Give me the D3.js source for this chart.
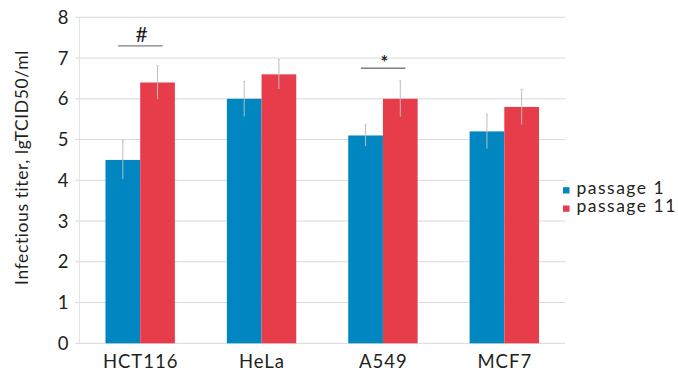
<!DOCTYPE html>
<html>
<head>
<meta charset="utf-8">
<script src="https://cdn.jsdelivr.net/npm/d3@7"></script>
<style>
  html, body { margin: 0; padding: 0; background: #fff; }
  svg { display: block; }
  text { font-family: Lato, "Open Sans", sans-serif; fill: #231f20; }
</style>
</head>
<body>
<svg id="chart" width="678" height="371"></svg>
<script>
// Cell lines and titers (lgTCID50/ml) for two passages
const categories = ["HCT116", "HeLa", "A549", "MCF7"];
const seriesNames = ["passage 1", "passage 11"];
const passage1 = [4.5, 6.0, 5.1, 5.2];
const passage11 = [6.4, 6.6, 6.0, 5.8];
const passage1Err = [0.47, 0.43, 0.26, 0.42];
const passage11Err = [0.41, 0.36, 0.44, 0.43];
const yTicks = [0, 1, 2, 3, 4, 5, 6, 7, 8];
// Significance marks: category, symbol, level
const marks = [
  { category: "HCT116", symbol: "#", level: 7.3 },
  { category: "A549", symbol: "*", level: 6.75 }
];

const colors = ["#0086c0", "#e73d4b"];
const values = [passage1, passage11];
const errors = [passage1Err, passage11Err];

const svg = d3.select("#chart");
const margin = { left: 79.5, right: 113, top: 17.3, bottom: 27.7 };
const W = 678, H = 371;
const x0 = margin.left, x1 = W - margin.right;
const yTop = margin.top, yBot = H - margin.bottom;

const x = d3.scaleBand().domain(categories).range([x0, x1]).paddingInner(0).paddingOuter(0);
const y = d3.scaleLinear().domain([0, 8]).range([yBot, yTop]);
const barW = 34.7;
const xs = d3.scaleBand().domain(seriesNames).range([0, barW * 2]);

// Gridlines with short ticks on the left
svg.append("g").selectAll("line").data(yTicks).join("line")
  .attr("x1", x0 - 4.5).attr("x2", x1)
  .attr("y1", d => y(d)).attr("y2", d => y(d))
  .attr("stroke", "#d9d9d9").attr("stroke-width", 1);

// Vertical axis line
svg.append("line")
  .attr("x1", x0).attr("x2", x0).attr("y1", yTop).attr("y2", yBot)
  .attr("stroke", "#e3e3e3").attr("stroke-width", 1);

// Y tick labels
svg.append("g").selectAll("text").data(yTicks).join("text")
  .attr("x", x0 - 11).attr("y", d => y(d)).attr("dy", "0.36em")
  .attr("text-anchor", "end").attr("font-size", 18.5)
  .text(d => d);

// Bars
const groups = svg.append("g").selectAll("g").data(categories).join("g")
  .attr("transform", c => `translate(${x(c) + x.bandwidth() / 2 - barW},0)`);

seriesNames.forEach((s, si) => {
  groups.append("rect")
    .attr("x", xs(s)).attr("width", xs.bandwidth())
    .attr("y", (c, i) => y(values[si][i]))
    .attr("height", (c, i) => y(0) - y(values[si][i]))
    .attr("fill", colors[si]);
});

// Error bars
seriesNames.forEach((s, si) => {
  groups.append("line")
    .attr("x1", xs(s) + xs.bandwidth() / 2).attr("x2", xs(s) + xs.bandwidth() / 2)
    .attr("y1", (c, i) => y(values[si][i] - errors[si][i]))
    .attr("y2", (c, i) => y(values[si][i] + errors[si][i]))
    .attr("stroke", "#bdbdbd").attr("stroke-width", 1);
  groups.append("line")
    .attr("x1", xs(s) + xs.bandwidth() / 2 - 1).attr("x2", xs(s) + xs.bandwidth() / 2 + 1)
    .attr("y1", (c, i) => y(values[si][i] + errors[si][i]))
    .attr("y2", (c, i) => y(values[si][i] + errors[si][i]))
    .attr("stroke", "#bdbdbd").attr("stroke-width", 1);
});

// X category labels
svg.append("g").selectAll("text").data(categories).join("text")
  .attr("x", c => x(c) + x.bandwidth() / 2 + 0.5).attr("y", H - 3)
  .attr("text-anchor", "middle").attr("font-size", 18.5)
  .attr("letter-spacing", 1)
  .text(c => c);

// Significance brackets
const sig = svg.append("g").selectAll("g").data(marks).join("g");
sig.append("line")
  .attr("x1", d => x(d.category) + x.bandwidth() / 2 - 22)
  .attr("x2", d => x(d.category) + x.bandwidth() / 2 + 22.5)
  .attr("y1", d => y(d.level)).attr("y2", d => y(d.level))
  .attr("stroke", "#7f7f7f").attr("stroke-width", 1.3);
sig.append("text")
  .attr("x", d => x(d.category) + x.bandwidth() / 2 + 1.5)
  .attr("y", d => y(d.level) - (d.symbol === "#" ? 4 : -1))
  .attr("text-anchor", "middle")
  .attr("font-size", d => d.symbol === "#" ? 21 : 18)
  .attr("font-weight", d => d.symbol === "#" ? "normal" : "bold")
  .text(d => d.symbol);

// Y axis title
svg.append("text")
  .attr("transform", `translate(28,167.5) rotate(-90)`)
  .attr("text-anchor", "middle").attr("font-size", 17.5)
  .attr("letter-spacing", 0.6)
  .text("Infectious titer, lgTCID50/ml");

// Legend: swatches plus one two-line text block
const legendX = 563, legendY = 193.5, legendStep = 18.3;
const legend = svg.append("g");
legend.selectAll("rect").data(seriesNames).join("rect")
  .attr("x", legendX).attr("y", (d, i) => legendY + i * legendStep - 6.3)
  .attr("width", 6.5).attr("height", 6.3)
  .attr("fill", (d, i) => colors[i]);
legend.append("text")
  .attr("font-size", 17.5).attr("letter-spacing", 1.5)
  .selectAll("tspan").data(seriesNames).join("tspan")
  .attr("x", legendX + 13.5).attr("y", (d, i) => legendY + i * legendStep)
  .text(d => d);
</script>
</body>
</html>
